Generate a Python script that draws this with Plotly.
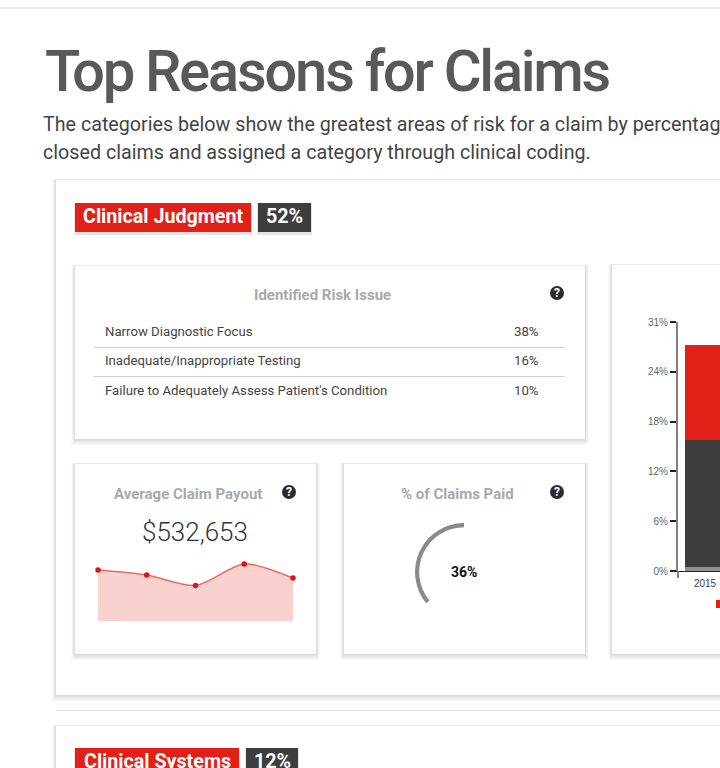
import plotly.graph_objects as go

W, H = 720, 768

# datos
risk_issues = ["Narrow Diagnostic Focus", "Inadequate/Inappropriate Testing", "Failure to Adequately Assess Patient's Condition"]
risk_pcts = ["38%", "16%", "10%"]
payout_years = [2015, 2016, 2017, 2018, 2019]
payout_values = [630600, 569400, 440800, 704100, 532653]
# no pagado, pagado: el arco pagado termina arriba
paid_values = [64, 36]
bar_years = ["2015"]
bar_gray = [0.5]
bar_dark = [15.8]
bar_red = [11.8]
bar_tickvals = [0, 6.2, 12.4, 18.6, 24.8, 31]
bar_ticktext = ["0%", "6%", "12%", "18%", "24%", "31%"]

RED = "#e32017"
DARK = "#3d3d3d"
GRAY_TXT = "#a9a9a9"


def px(x):
    return x / W


def py(y):
    return 1 - y / H


shapes = []
annotations = []


def rect(x0, y0, x1, y1, color):
    shapes.append(dict(type="rect", xref="paper", yref="paper", x0=px(x0), x1=px(x1), y0=py(y0), y1=py(y1),
                       fillcolor=color, line=dict(width=0), layer="below"))


def card(x0, y0, x1, y1):
    # sombra a capas
    for i in range(6, 0, -1):
        rect(x0 - i * 0.6, y0 - i * 0.2, x1 + i * 0.6, y1 + i, "rgba(0,0,0,0.025)")
    rect(x0, y0, x1, y1, "white")


def text(x, y, s, size, color, anchor="left", font="Roboto", bold=False):
    if bold:
        s = "<b>" + s + "</b>"
    annotations.append(dict(x=px(x), y=py(y), xref="paper", yref="paper", text=s, showarrow=False,
                            xanchor=anchor, yanchor="middle", align=anchor,
                            font=dict(size=size, color=color, family=font)))


def badge(x0, x1, y0, y1, s, color, size=19.7, text_y=None):
    rect(x0 - 1, y0, x1 + 1, y1 + 3, "rgba(0,0,0,0.10)")
    rect(x0, y0, x1, y1, color)
    text((x0 + x1) / 2, text_y or (y0 + y1) / 2 - 1, s, size, "white", "center", bold=True)


def help_icon(x, y):
    shapes.append(dict(type="circle", xref="paper", yref="paper", x0=px(x - 7), x1=px(x + 7), y0=py(y + 7), y1=py(y - 7),
                       fillcolor="#2b2b2b", line=dict(width=0), layer="below"))
    text(x, y, "?", 12, "white", "center", bold=True)


# fondo de pagina
shapes.append(dict(type="line", xref="paper", yref="paper", x0=0, x1=1, y0=py(8), y1=py(8),
                   line=dict(color="#e8e8e8", width=2), layer="below"))
text(43, 71, "Top Reasons for Claims", 58, "#595959", font="Roboto Medium")
text(41, 125, "The categories below show the greatest areas of risk for a claim by percentage of", 19.7, "#444444")
text(41, 152.5, "closed claims and assigned a category through clinical coding.", 19.7, "#444444")

card(56, 180, 740, 695)
badge(75, 251, 203, 232, "Clinical Judgment", RED)
badge(258, 311, 203, 232, "52%", DARK)

# tabla de riesgos
card(75, 266, 585, 439)
text(322, 295, "Identified Risk Issue", 15, GRAY_TXT, "center", bold=True)
help_icon(557, 293)
row_y = [331.5, 360.5, 390.5]
for name, pct, y in zip(risk_issues, risk_pcts, row_y):
    text(103, y, name, 13.2, "#444444")
    text(512, y, pct, 13.2, "#444444")
for y in [347.5, 376.5]:
    shapes.append(dict(type="line", xref="paper", yref="paper", x0=px(94), x1=px(565), y0=py(y), y1=py(y),
                       line=dict(color="#cfcfcf", width=1), layer="below"))

# tarjetas inferiores
card(75, 464, 316, 654)
text(188, 494, "Average Claim Payout", 15, GRAY_TXT, "center", bold=True)
help_icon(289, 492)
text(195, 532, "$532,653", 26, "#333333", "center", font="Roboto Light")

card(344, 464, 585, 654)
text(457, 494, "% of Claims Paid", 15, GRAY_TXT, "center", bold=True)
help_icon(557, 492)
text(464, 572, "36%", 14, "#111111", "center", bold=True)

card(612, 265, 740, 654)
rect(716, 600, 720, 608, RED)
# la linea del eje baja un poco por debajo del cero
shapes.append(dict(type="line", xref="paper", yref="paper", x0=px(678), x1=px(678), y0=py(571), y1=py(578),
                   line=dict(color="#7f7f7f", width=2)))

# siguiente seccion
shapes.append(dict(type="line", xref="paper", yref="paper", x0=px(56), x1=1, y0=py(710.5), y1=py(710.5),
                   line=dict(color="#e4e4e4", width=1), layer="below"))
card(56, 726, 740, 800)
badge(75, 239, 748, 790, "Clinical Systems", RED, text_y=761)
badge(246, 298, 748, 790, "12%", DARK, text_y=761)

fig = go.Figure()

fig.add_trace(go.Scatter(x=payout_years, y=payout_values, mode="lines+markers", fill="tozeroy",
                         fillcolor="#f9d2d0", line=dict(color="#ec6a64", width=1.5, shape="spline", smoothing=0.8),
                         marker=dict(color="#e0140f", size=5.5), cliponaxis=False, xaxis="x", yaxis="y", showlegend=False))

fig.add_trace(go.Pie(values=paid_values, sort=False, direction="clockwise", rotation=0, hole=0.915,
                     marker=dict(colors=["rgba(0,0,0,0)", "#8a8a8a"], line=dict(width=0)), textinfo="none",
                     domain=dict(x=[px(415), px(513)], y=[py(621), py(523)]), showlegend=False))

for vals, color in [(bar_gray, "#8f8f8f"), (bar_dark, DARK), (bar_red, RED)]:
    fig.add_trace(go.Bar(x=bar_years, y=vals, marker=dict(color=color, line=dict(width=0)), width=1,
                         xaxis="x2", yaxis="y2", showlegend=False))

fig.update_layout(
    width=W, height=H, autosize=False, margin=dict(l=0, r=0, t=0, b=0, autoexpand=False),
    paper_bgcolor="white", plot_bgcolor="rgba(0,0,0,0)", barmode="stack",
    shapes=shapes, annotations=annotations,
    xaxis=dict(domain=[px(98), px(293)], range=[2015, 2019], visible=False),
    yaxis=dict(domain=[py(621.5), py(555)], range=[0, 814300], visible=False),
    xaxis2=dict(domain=[px(678), 1], range=[-0.675, 0.375], type="category", anchor="y2",
                showline=True, linecolor="#222222", linewidth=1, ticks="", showgrid=False, ticklabelstandoff=3,
                tickfont=dict(size=10, color="#444444", family="Liberation Sans")),
    yaxis2=dict(domain=[py(571), py(322)], range=[0, 31], anchor="x2", tickvals=bar_tickvals, ticktext=bar_ticktext,
                showline=True, linecolor="#7f7f7f", linewidth=2, ticks="outside", ticklen=6, tickcolor="#222222",
                tickwidth=1.5, showgrid=False, zeroline=False,
                tickfont=dict(size=10, color="#666666", family="Liberation Sans")),
)

# el titulo original va mas apretado que Roboto normal
js = """document.body.style.margin='0';document.body.style.overflow='hidden';
document.querySelectorAll('.annotation-text').forEach(function(t){
  if(t.textContent.indexOf('Top Reasons')===0){t.style.letterSpacing='-2.35px';}
});"""
fig.write_html("out.html", config=dict(displayModeBar=False), post_script=js)
